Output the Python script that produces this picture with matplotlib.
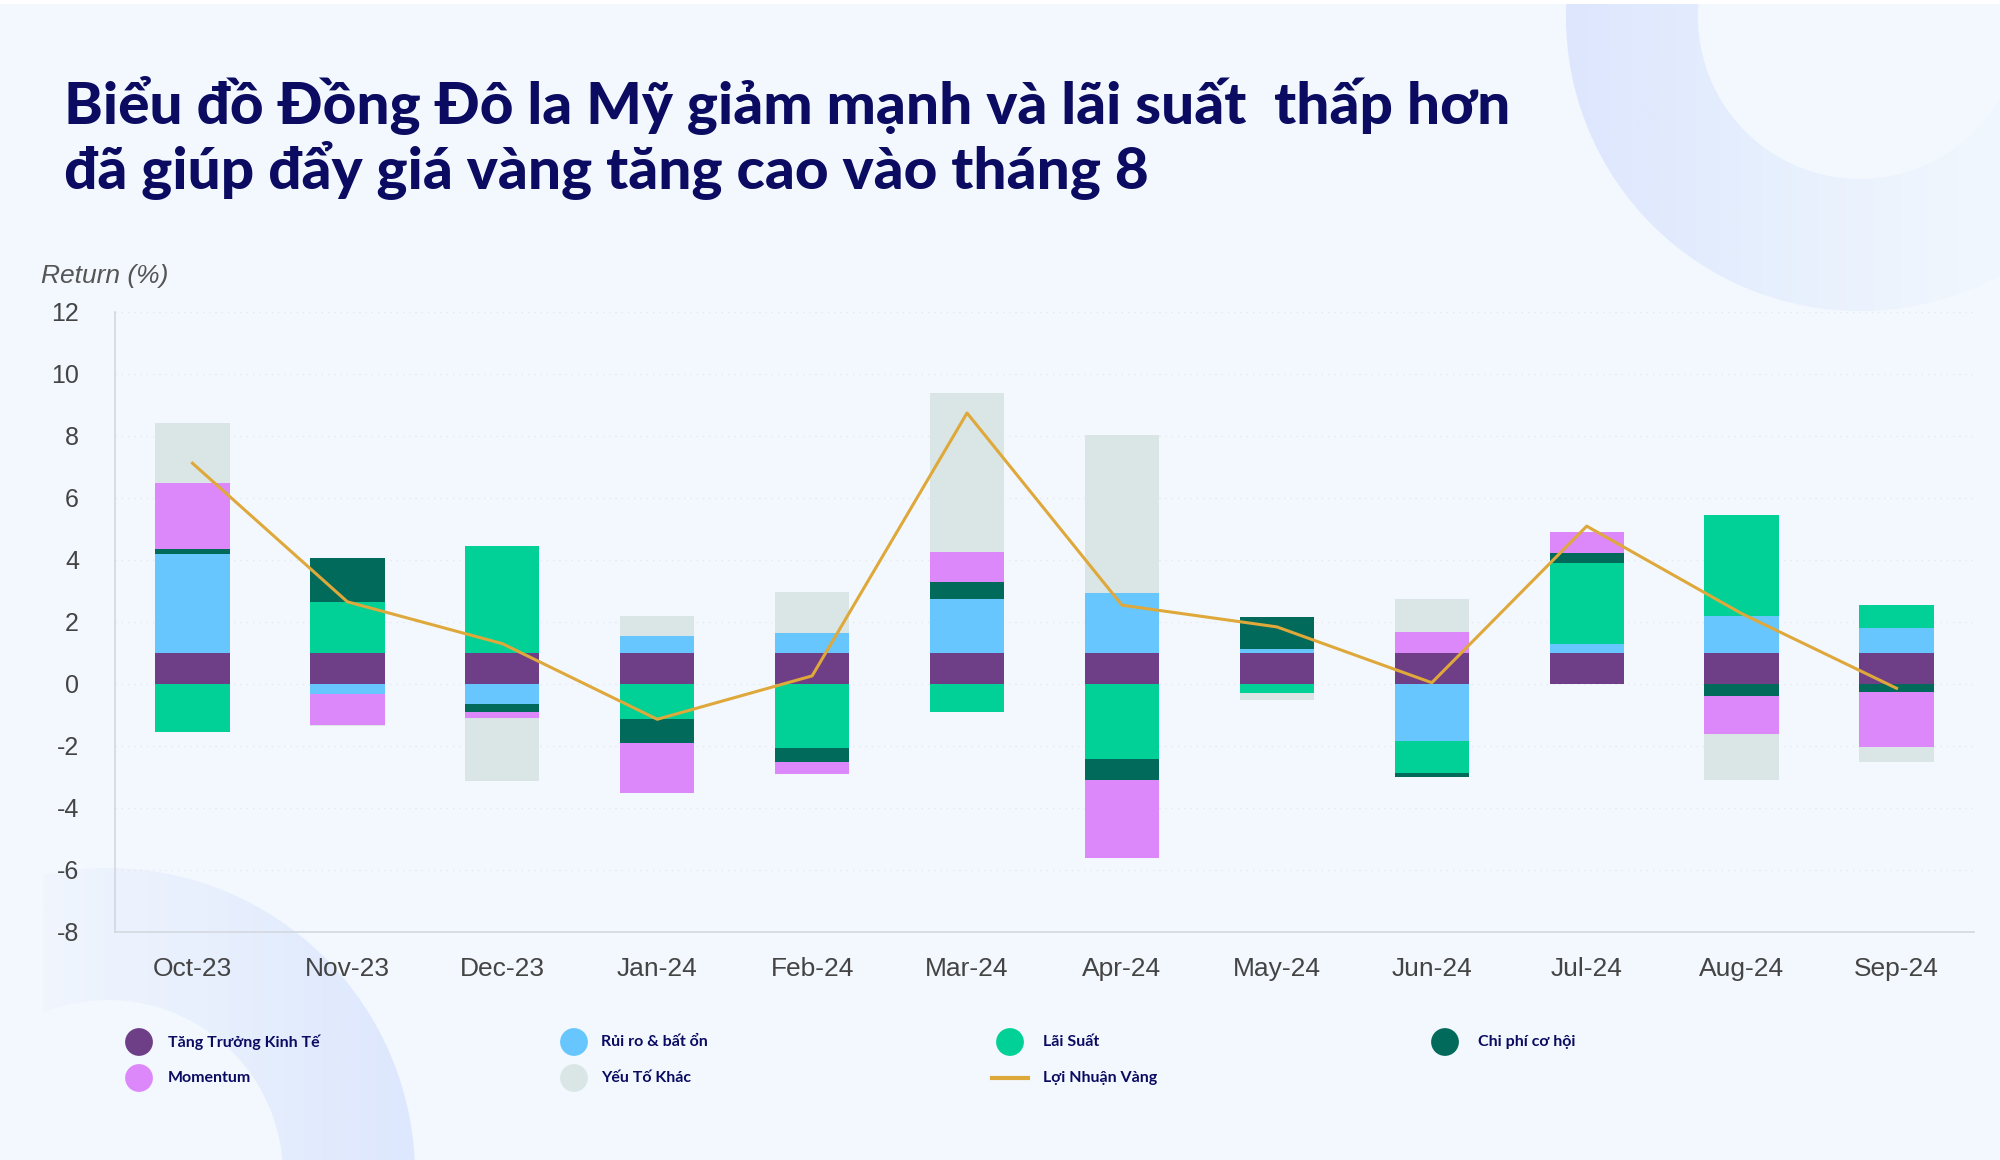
import numpy as np
import matplotlib.pyplot as plt
from matplotlib.patches import Wedge, Rectangle
from matplotlib.colors import LinearSegmentedColormap

# data (return %, per factor)
months = ['Oct-23', 'Nov-23', 'Dec-23', 'Jan-24', 'Feb-24', 'Mar-24',
          'Apr-24', 'May-24', 'Jun-24', 'Jul-24', 'Aug-24', 'Sep-24']
tang_truong = [1.0, 1.0, 1.0, 1.0, 1.0, 1.0, 1.0, 1.0, 1.0, 1.0, 1.0, 1.0]
rui_ro = [3.2, -0.32, -0.64, 0.54, 0.63, 1.75, 1.92, 0.14, -1.83, 0.3, 1.19, 0.79]
lai_suat = [-1.56, 1.65, 3.45, -1.14, -2.07, -0.89, -2.42, -0.3, -1.04, 2.6, 3.27, 0.77]
chi_phi = [0.14, 1.41, -0.25, -0.75, -0.46, 0.54, -0.67, 1.02, -0.14, 0.32, -0.39, -0.27]
momentum = [2.15, -1.0, -0.21, -1.63, -0.37, 0.97, -2.54, 0.0, 0.68, 0.68, -1.23, -1.78]
yeu_to_khac = [1.93, -0.05, -2.04, 0.65, 1.34, 5.12, 5.1, -0.21, 1.07, 0.0, -1.47, -0.48]
loi_nhuan = [7.12, 2.65, 1.3, -1.14, 0.26, 8.74, 2.54, 1.84, 0.04, 5.09, 2.27, -0.14]
y_ticks = [-8, -6, -4, -2, 0, 2, 4, 6, 8, 10, 12]

labels = ['Tăng Trưởng Kinh Tế', 'Rủi ro & bất ổn', 'Lãi Suất', 'Chi phí cơ hội',
          'Momentum', 'Yếu Tố Khác', 'Lợi Nhuận Vàng']
colors = ['#6e3f86', '#66c6fd', '#01d196', '#016a5a', '#dc88fa', '#d9e6e5', '#dfa83a']

bg_col = '#f3f8fe'
navy = '#0b0b62'
title_font = ['Lato', 'Noto Sans', 'DejaVu Sans']

fig = plt.figure(figsize=(20, 11.6), dpi=100, facecolor=bg_col)

# background decoration, in pixel coords
bg = fig.add_axes([0, 0, 1, 1], zorder=0)
bg.set_xlim(0, 2000)
bg.set_ylim(1160, 0)
bg.axis('off')
grad = np.linspace(0, 1, 256).reshape(1, -1)

# top right ring, fades out to the right
tr_cmap = LinearSegmentedColormap.from_list('tr', ['#dde6fd', '#e6effd', '#f0f6fe', bg_col])
ring = Wedge((1860, 17), 294, 0, 360, width=132, facecolor='none', edgecolor='none')
bg.add_patch(ring)
im = bg.imshow(grad, cmap=tr_cmap, extent=[1566, 2154, 311, -277], aspect='auto', zorder=0)
im.set_clip_path(ring)

# bottom left ring, only shown right of x=43, stronger towards the lower right
bl_cmap = LinearSegmentedColormap.from_list('bl', ['#f0f5fe', '#e7effd', '#dde7fd'])
ring2 = Wedge((108, 1175), 307, 0, 360, width=132, facecolor='none', edgecolor='none')
bg.add_patch(ring2)
im2 = bg.imshow(grad, cmap=bl_cmap, extent=[43, 415, 1482, 868], aspect='auto', zorder=0)
im2.set_clip_path(ring2)
bg.add_patch(Rectangle((0, 0), 2000, 4, facecolor='white', edgecolor='none', zorder=1))
bg.set_xlim(0, 2000)
bg.set_ylim(1160, 0)

# main chart
ax = fig.add_axes([0.0575, 0.1966, 0.9295, 0.5345], zorder=1)
ax.set_facecolor('none')
x = np.arange(len(months))
series = [tang_truong, rui_ro, lai_suat, chi_phi, momentum, yeu_to_khac]
pos_bottom = np.zeros(len(months))
neg_bottom = np.zeros(len(months))
for vals, color in zip(series, colors[:6]):
    v = np.array(vals)
    bottom = np.where(v >= 0, pos_bottom, neg_bottom)
    ax.bar(x, v, 0.48, bottom=bottom, color=color, zorder=2)
    pos_bottom += np.clip(v, 0, None)
    neg_bottom += np.clip(v, None, 0)

ax.plot(x, loi_nhuan, color=colors[6], lw=2.2, zorder=4)

ax.set_xlim(-0.5, 11.5)
ax.set_ylim(-8, 12)
ax.set_yticks(y_ticks)
ax.set_yticklabels([str(t) for t in y_ticks])
ax.set_xticks(x)
ax.set_xticklabels(months)
ax.yaxis.grid(True, color='#e2e7ee', lw=0.9, linestyle=(0, (1, 4)), zorder=0)
for s in ['top', 'right']:
    ax.spines[s].set_visible(False)
for s in ['left', 'bottom']:
    ax.spines[s].set_color('#d3d8e0')
    ax.spines[s].set_linewidth(1.2)
ax.tick_params(axis='y', length=0, pad=26, labelsize=18, labelcolor='#444444')
ax.tick_params(axis='x', length=0, pad=18, labelsize=19, labelcolor='#444444')
for lab in ax.get_xticklabels() + ax.get_yticklabels():
    lab.set_family('Liberation Sans')

fig.text(0.0205, 0.762, 'Return (%)', fontsize=19, style='italic', color='#555555',
         family='Liberation Sans', va='center')

# title, sized to the reference width
r = fig.canvas.get_renderer()
t1 = fig.text(0.032, 1 - 124 / 1160, 'Biểu đồ Đồng Đô la Mỹ giảm mạnh và lãi suất  thấp hơn',
              fontsize=40, fontweight='black', color=navy, family=title_font, va='baseline')
t2 = fig.text(0.032, 1 - 189 / 1160, 'đã giúp đẩy giá vàng tăng cao vào tháng 8',
              fontsize=40, fontweight='black', color=navy, family=title_font, va='baseline')
w1 = t1.get_window_extent(r).width
t1.set_fontsize(40 * 1441 / w1)
t2.set_fontsize(40 * 1441 / w1)

# legend drawn by hand
col_marker = [139, 574, 1010, 1445]
col_text = [168, 601, 1043, 1478]
row_y = [1042, 1078]
for i, (lab, c) in enumerate(zip(labels, colors)):
    row, col = divmod(i, 4)
    yy = row_y[row]
    if lab == 'Lợi Nhuận Vàng':
        bg.plot([col_marker[col] - 18, col_marker[col] + 18], [yy, yy], color=c, lw=3, zorder=3)
    else:
        bg.scatter([col_marker[col]], [yy], s=400, color=c, zorder=3, edgecolors='none')
    bg.text(col_text[col], yy, lab, fontsize=11.5, fontweight='bold', color=navy,
            family=title_font, va='center', ha='left', zorder=3)

fig.savefig('out.png', dpi=100, facecolor=bg_col)
